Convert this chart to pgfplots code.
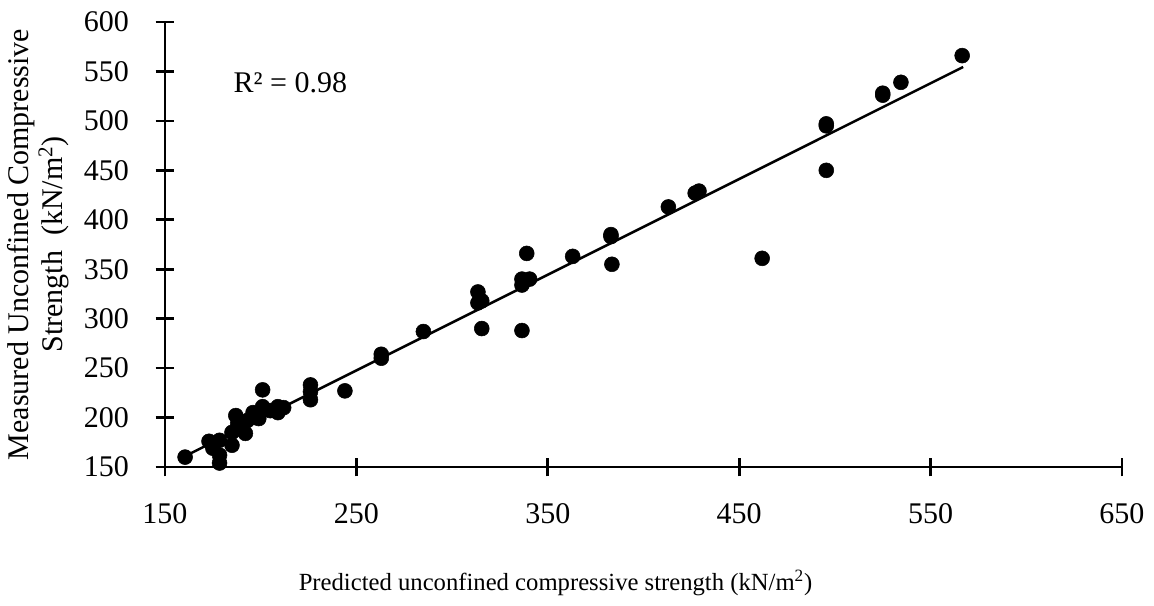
\documentclass[border=0pt]{standalone}
\usepackage{pgfplots}
\pgfplotsset{compat=1.18}
\usepackage{fontspec}
\setmainfont{Liberation Serif}
\begin{document}
\begin{tikzpicture}
\begin{axis}[
  scale only axis,
  width=717.75pt, height=333.75pt,
  xmin=150, xmax=650, ymin=150, ymax=600,
  xtick={150,250,...,650}, ytick={150,200,...,600},
  axis x line*=bottom, axis y line*=left,
  axis line style={line width=2pt,-},
  tick style={line width=2pt,black},
  major tick length=14pt,
  tick align=center,
  /pgf/number format/assume math mode=true,
  tick label style={font=\fontsize{22.5}{27}\selectfont},
  xticklabel style={yshift=-17pt},
  yticklabel style={xshift=-16.5pt},
  xlabel={Predicted unconfined compressive strength (kN/m\textsuperscript{2})},
  xlabel style={font=\fontsize{18.5}{22}\selectfont, at={(axis description cs:0.5,0)}, anchor=center, yshift=-87pt, xshift=-66pt},
  ylabel={Measured Unconfined Compressive\\Strength\ \ (kN/m\textsuperscript{2})},
  ylabel style={font=\fontsize{22.5}{25}\selectfont, align=center, at={(axis description cs:0,0.5)}, anchor=center, yshift=95pt},
  clip=false,
]
\coordinate (O) at (rel axis cs:0,0);
\addplot[only marks, mark=*, mark size=5.6pt, black] coordinates {
(160.5,160) (173,176) (175,169) (178.5,177) (178.5,162) (178.5,154)
(185,172) (185,185) (187,202) (188,194) (189,190) (192,184) (193,197)
(196,205) (197,200) (199,199) (201,228) (201,211) (205,207) (209,211)
(209,205) (212,210) (226,233) (226,226) (226,218) (244,227)
(263,264) (263,260) (285,287) (313.5,327) (313.5,316) (315.5,318)
(315.5,290) (336.5,340) (336.5,334) (340.5,340) (336.5,288) (339,366)
(363,363) (383,385) (383,383) (383.5,355) (413,413) (427,427) (429,429)
(462,361) (495.5,497) (495.5,495) (495.5,450) (525,526) (525,528)
(534.5,539) (566.5,566)
};
\addplot[black, line width=1.9pt] coordinates {(160,160.5) (567,554.5)};
\node[font=\fontsize{22.5}{27}\selectfont] at (axis cs:215.5,539) {R² = 0.98};
\end{axis}
\path ([shift={(-123.75pt,-104.25pt)}]O) rectangle ++(865.5pt,454.5pt);
\end{tikzpicture}
\end{document}
